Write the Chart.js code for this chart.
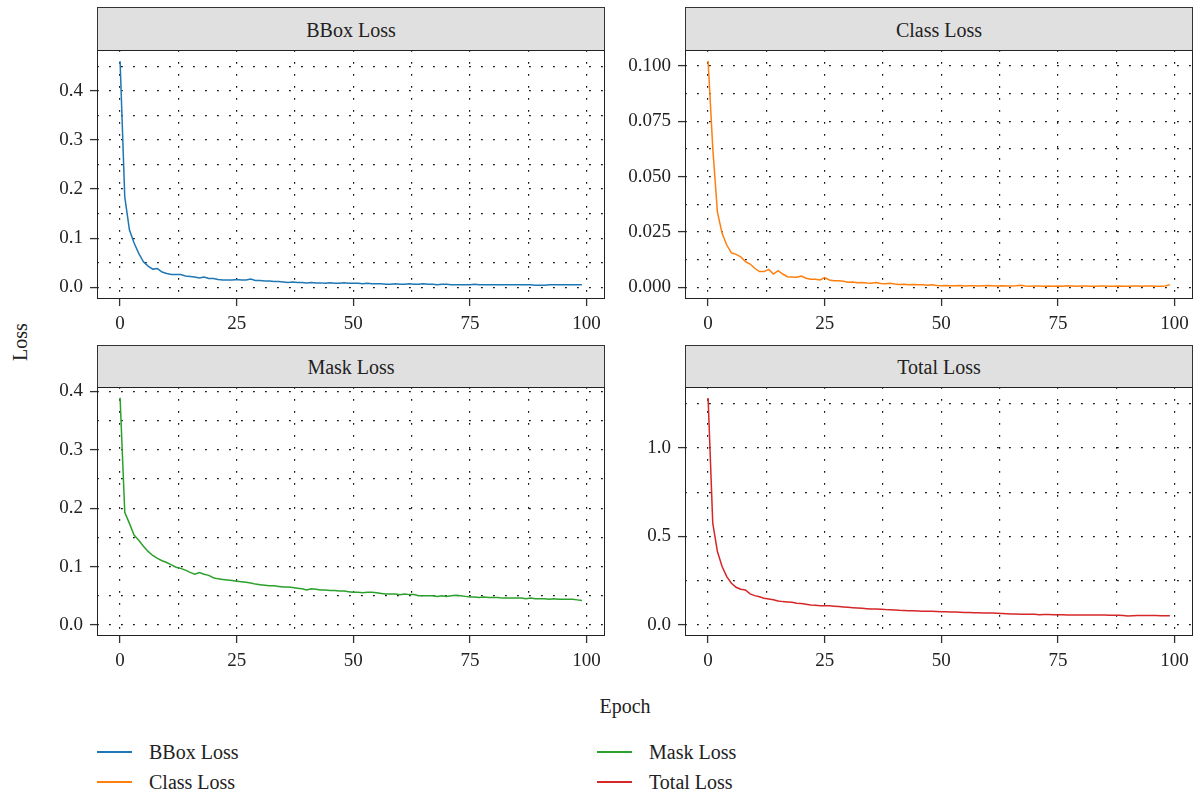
<!DOCTYPE html>
<html>
<head>
<meta charset="utf-8">
<script src="https://cdn.jsdelivr.net/npm/chart.js@4/dist/chart.umd.min.js"></script>
<style>
  html, body { margin: 0; padding: 0; background: #fff; overflow: hidden; }
  body { width: 1196px; height: 793px; position: relative; font-family: "Liberation Serif", "DejaVu Serif", serif; color: #222; }
  canvas { position: absolute; }
  .strip { position: absolute; box-sizing: border-box; background: #e0e0e0; border: 1.2px solid #333; text-align: center; font-size: 20px; color: #222; }
  .frame { position: absolute; box-sizing: border-box; border: 1.2px solid #222; pointer-events: none; z-index: 5; }
  .title { position: absolute; font-size: 20px; color: #222; white-space: nowrap; }
  .leg { position: absolute; font-size: 20px; color: #222; white-space: nowrap; }
  .legline { position: absolute; height: 2px; width: 35px; }
</style>
</head>
<body>
<script>
// ---------------- DATA ----------------
const epochs = [0,1,2,3,4,5,6,7,8,9,10,11,12,13,14,15,16,17,18,19,20,21,22,23,24,25,26,27,28,29,30,31,32,33,34,35,36,37,38,39,40,41,42,43,44,45,46,47,48,49,50,51,52,53,54,55,56,57,58,59,60,61,62,63,64,65,66,67,68,69,70,71,72,73,74,75,76,77,78,79,80,81,82,83,84,85,86,87,88,89,90,91,92,93,94,95,96,97,98,99];

const bboxLoss = [
  0.460, 0.184, 0.117, 0.090, 0.069, 0.052, 0.043, 0.037, 0.038, 0.031,
  0.028, 0.026, 0.026, 0.026, 0.023, 0.022, 0.021, 0.019, 0.021, 0.018,
  0.018, 0.016, 0.015, 0.015, 0.015, 0.016, 0.015, 0.015, 0.017, 0.014,
  0.014, 0.013, 0.013, 0.012, 0.012, 0.011, 0.010, 0.011, 0.010, 0.010,
  0.009, 0.010, 0.009, 0.009, 0.008, 0.009, 0.008, 0.008, 0.009, 0.008,
  0.008, 0.008, 0.007, 0.008, 0.007, 0.007, 0.007, 0.006, 0.006, 0.007,
  0.006, 0.006, 0.007, 0.006, 0.006, 0.007, 0.006, 0.006, 0.005, 0.006,
  0.006, 0.005, 0.005, 0.005, 0.005, 0.005, 0.006, 0.005, 0.005, 0.005,
  0.005, 0.005, 0.005, 0.005, 0.005, 0.005, 0.005, 0.005, 0.005, 0.004,
  0.004, 0.004, 0.005, 0.005, 0.005, 0.005, 0.005, 0.005, 0.005, 0.005
];

const classLoss = [
  0.1023, 0.0630, 0.0340, 0.0244, 0.0191, 0.0156, 0.0149, 0.0138, 0.0116, 0.0105,
  0.0086, 0.0071, 0.0071, 0.0081, 0.0060, 0.0075, 0.0060, 0.0048, 0.0047, 0.0045,
  0.0051, 0.0041, 0.0036, 0.0036, 0.0033, 0.0044, 0.0033, 0.0030, 0.0030, 0.0027,
  0.0023, 0.0024, 0.0021, 0.0022, 0.0019, 0.0018, 0.0022, 0.0017, 0.0016, 0.0018,
  0.0015, 0.0013, 0.0014, 0.0012, 0.0013, 0.0011, 0.0012, 0.0009, 0.0011, 0.0008,
  0.0007, 0.0008, 0.0007, 0.0007, 0.0008, 0.0006, 0.0007, 0.0007, 0.0006, 0.0007,
  0.0008, 0.0007, 0.0006, 0.0007, 0.0006, 0.0006, 0.0007, 0.0009, 0.0006, 0.0005,
  0.0006, 0.0006, 0.0005, 0.0006, 0.0005, 0.0006, 0.0005, 0.0007, 0.0006, 0.0005,
  0.0006, 0.0006, 0.0005, 0.0005, 0.0006, 0.0006, 0.0005, 0.0005, 0.0006, 0.0005,
  0.0005, 0.0006, 0.0006, 0.0005, 0.0006, 0.0006, 0.0005, 0.0005, 0.0006, 0.0012
];

const maskLoss = [
  0.389, 0.193, 0.174, 0.154, 0.145, 0.135, 0.126, 0.119, 0.114, 0.110,
  0.107, 0.103, 0.099, 0.097, 0.094, 0.090, 0.087, 0.090, 0.087, 0.085,
  0.081, 0.079, 0.078, 0.077, 0.076, 0.075, 0.074, 0.073, 0.072, 0.070,
  0.069, 0.068, 0.067, 0.067, 0.066, 0.065, 0.065, 0.064, 0.063, 0.062,
  0.060, 0.062, 0.061, 0.060, 0.060, 0.059, 0.059, 0.058, 0.058, 0.057,
  0.056, 0.056, 0.055, 0.056, 0.056, 0.055, 0.054, 0.053, 0.053, 0.053,
  0.052, 0.053, 0.052, 0.052, 0.050, 0.050, 0.050, 0.050, 0.049, 0.050,
  0.049, 0.050, 0.051, 0.050, 0.049, 0.048, 0.048, 0.047, 0.048, 0.047,
  0.047, 0.047, 0.046, 0.046, 0.046, 0.046, 0.046, 0.045, 0.046, 0.045,
  0.045, 0.045, 0.044, 0.045, 0.044, 0.044, 0.044, 0.044, 0.043, 0.042
];

const totalLoss = [
  1.283, 0.576, 0.415, 0.330, 0.273, 0.236, 0.213, 0.202, 0.198, 0.176,
  0.166, 0.159, 0.151, 0.147, 0.142, 0.136, 0.132, 0.130, 0.128, 0.123,
  0.121, 0.117, 0.113, 0.111, 0.109, 0.109, 0.108, 0.106, 0.104, 0.102,
  0.100, 0.098, 0.096, 0.094, 0.092, 0.090, 0.090, 0.089, 0.087, 0.086,
  0.085, 0.083, 0.082, 0.080, 0.080, 0.079, 0.078, 0.077, 0.077, 0.076,
  0.075, 0.075, 0.074, 0.073, 0.072, 0.070, 0.070, 0.069, 0.069, 0.068,
  0.068, 0.067, 0.066, 0.065, 0.064, 0.062, 0.062, 0.061, 0.061, 0.060,
  0.060, 0.058, 0.059, 0.059, 0.058, 0.058, 0.058, 0.057, 0.057, 0.056,
  0.056, 0.056, 0.056, 0.056, 0.056, 0.056, 0.055, 0.055, 0.055, 0.054,
  0.051, 0.052, 0.053, 0.053, 0.053, 0.054, 0.053, 0.052, 0.052, 0.052
];

// tick values and labels
const xMajor = [0, 25, 50, 75, 100];
const xMajorLabels = ['0', '25', '50', '75', '100'];
const xMinor = [12.5, 37.5, 62.5, 87.5];

const bboxYMajor = [0, 0.1, 0.2, 0.3, 0.4];
const bboxYLabels = ['0.0', '0.1', '0.2', '0.3', '0.4'];
const bboxYMinor = [0.05, 0.15, 0.25, 0.35, 0.45];

const classYMajor = [0, 0.025, 0.05, 0.075, 0.1];
const classYLabels = ['0.000', '0.025', '0.050', '0.075', '0.100'];
const classYMinor = [0.0125, 0.0375, 0.0625, 0.0875];

const maskYMajor = [0, 0.1, 0.2, 0.3, 0.4];
const maskYLabels = ['0.0', '0.1', '0.2', '0.3', '0.4'];
const maskYMinor = [0.05, 0.15, 0.25, 0.35];

const totalYMajor = [0, 0.5, 1.0];
const totalYLabels = ['0.0', '0.5', '1.0'];
const totalYMinor = [0.25, 0.75, 1.25];

const seriesNames = ['BBox Loss', 'Class Loss', 'Mask Loss', 'Total Loss'];
const seriesColors = ['#1f77b4', '#ff7f0e', '#2ca02c', '#d62728'];

// ---------------- LAYOUT ----------------
const FONT = '"Liberation Serif", "DejaVu Serif", serif';
const panels = [
  { name: seriesNames[0], data: bboxLoss, color: seriesColors[0], yMajor: bboxYMajor, yLabels: bboxYLabels, yMinor: bboxYMinor,
    yMin: -0.0238, yMax: 0.4828, left: 97, top: 50, stripTop: 7, cLeft: 40 },
  { name: seriesNames[1], data: classLoss, color: seriesColors[1], yMajor: classYMajor, yLabels: classYLabels, yMinor: classYMinor,
    yMin: -0.00529, yMax: 0.10723, left: 685, top: 50, stripTop: 7, cLeft: 610 },
  { name: seriesNames[2], data: maskLoss, color: seriesColors[2], yMajor: maskYMajor, yLabels: maskYLabels, yMinor: maskYMinor,
    yMin: -0.01886, yMax: 0.40754, left: 97, top: 387, stripTop: 345, cLeft: 40 },
  { name: seriesNames[3], data: totalLoss, color: seriesColors[3], yMajor: totalYMajor, yLabels: totalYLabels, yMinor: totalYMinor,
    yMin: -0.0623, yMax: 1.345, left: 685, top: 387, stripTop: 345, cLeft: 610 }
];
const PW = 508, PH = 249, PADT = 25, HX = 45;

function mkTicks(major, labels, minor) {
  const t = major.map((v, i) => ({ value: v, lab: labels[i] }));
  minor.forEach(v => t.push({ value: v, lab: null }));
  t.sort((a, b) => a.value - b.value);
  return t;
}

panels.forEach(p => {
  // strip
  const s = document.createElement('div');
  s.className = 'strip';
  s.style.left = p.left + 'px';
  s.style.top = p.stripTop + 'px';
  s.style.width = PW + 'px';
  s.style.height = (p.top - p.stripTop + 1) + 'px';
  s.style.lineHeight = (p.top - p.stripTop + 1) + 'px';
  s.textContent = p.name;
  document.body.appendChild(s);
  // frame
  const f = document.createElement('div');
  f.className = 'frame';
  f.style.left = p.left + 'px';
  f.style.top = p.top + 'px';
  f.style.width = PW + 'px';
  f.style.height = PH + 'px';
  document.body.appendChild(f);
  // canvas
  const wy = p.left - p.cLeft;
  const padR = Math.min(20, 1196 - (p.left + PW));
  const cw = wy + PW + padR;
  const ch = PADT + PH + HX;
  const c = document.createElement('canvas');
  c.width = cw; c.height = ch;
  c.style.left = p.cLeft + 'px';
  c.style.top = (p.top - PADT) + 'px';
  c.style.width = cw + 'px'; c.style.height = ch + 'px';
  document.body.appendChild(c);

  const xt = mkTicks(xMajor, xMajorLabels, xMinor);
  const yt = mkTicks(p.yMajor, p.yLabels, p.yMinor);
  const gridCommon = {
    color: '#111',
    lineWidth: 1.2,
    drawTicks: true,
    tickLength: 7,
    tickWidth: 1.3,
    tickColor: ctx => (ctx.tick && ctx.tick.lab != null) ? '#333' : 'rgba(0,0,0,0)'
  };
  new Chart(c.getContext('2d'), {
    type: 'line',
    data: {
      datasets: [{
        label: p.name,
        data: epochs.map((e, i) => ({ x: e, y: p.data[i] })),
        borderColor: p.color,
        borderWidth: 1.5,
        pointRadius: 0,
        tension: 0,
        fill: false
      }]
    },
    options: {
      responsive: false,
      animation: false,
      devicePixelRatio: 1,
      layout: { padding: { top: PADT, right: padR, left: 0, bottom: 0 } },
      plugins: { legend: { display: false }, tooltip: { enabled: false } },
      scales: {
        x: {
          type: 'linear', min: -4.95, max: 103.95,
          afterBuildTicks: sc => { sc.ticks = xt.map(t => ({ ...t })); },
          afterFit: sc => { sc.height = HX; },
          ticks: { autoSkip: false, maxRotation: 0, padding: 7, color: '#222', font: { family: FONT, size: 19 },
                   callback: (v, i, ticks) => ticks[i].lab == null ? '' : ticks[i].lab },
          grid: gridCommon,
          border: { display: false, dash: [1.8, 10.2] }
        },
        y: {
          type: 'linear', min: p.yMin, max: p.yMax,
          afterBuildTicks: sc => { sc.ticks = yt.map(t => ({ ...t })); },
          afterFit: sc => { sc.width = wy; },
          ticks: { autoSkip: false, padding: 7, color: '#222', font: { family: FONT, size: 19 },
                   callback: (v, i, ticks) => ticks[i].lab == null ? '' : ticks[i].lab },
          grid: gridCommon,
          border: { display: false, dash: [1.8, 10.2] }
        }
      }
    }
  });
});

// axis titles
function addText(cls, txt, x, y, extra) {
  const d = document.createElement('div');
  d.className = cls;
  d.textContent = txt;
  d.style.left = x + 'px';
  d.style.top = y + 'px';
  if (extra) Object.assign(d.style, extra);
  document.body.appendChild(d);
  return d;
}
addText('title', 'Epoch', 625, 706, { transform: 'translate(-50%, -50%)' });
addText('title', 'Loss', 20, 342, { transform: 'translate(-50%, -50%) rotate(-90deg)' });

// legend
const legPos = [[97, 752], [97, 782], [597, 752], [597, 782]];
seriesNames.forEach((n, i) => {
  const [lx, ly] = legPos[i];
  const l = document.createElement('div');
  l.className = 'legline';
  l.style.left = lx + 'px';
  l.style.top = (ly - 1) + 'px';
  l.style.background = seriesColors[i];
  document.body.appendChild(l);
  addText('leg', n, lx + 52, ly, { transform: 'translateY(-50%)' });
});
</script>
</body>
</html>
